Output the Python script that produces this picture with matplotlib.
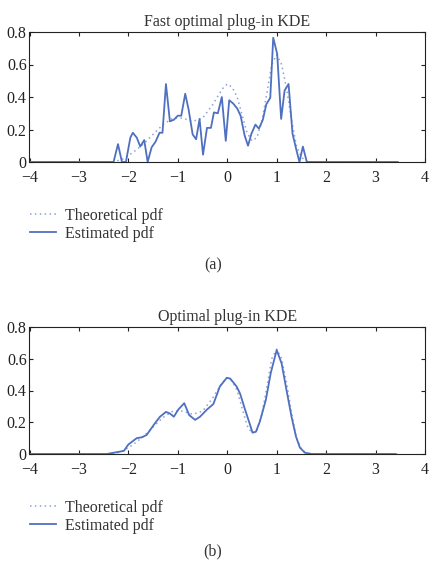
import matplotlib
matplotlib.use("Agg")
import matplotlib.pyplot as plt

plt.rcParams['font.family'] = ['Liberation Serif', 'DejaVu Serif']
plt.rcParams['axes.unicode_minus'] = True

# Theoretical pdf (shared by both panels)
theo_x = [-4.0, -2.3, -2.1, -1.9, -1.7, -1.5, -1.3, -1.1, -0.9, -0.7, -0.5, -0.3, -0.1,
          0.0, 0.1, 0.2, 0.3, 0.4, 0.5, 0.6, 0.7, 0.8, 0.9, 1.0, 1.1, 1.2, 1.3, 1.4,
          1.5, 1.6, 1.7, 3.45]
theo_y = [0.0, 0.0, 0.02, 0.06, 0.11, 0.17, 0.23, 0.27, 0.27, 0.25, 0.27, 0.35, 0.45,
          0.48, 0.46, 0.40, 0.29, 0.18, 0.13, 0.15, 0.25, 0.42, 0.60, 0.66, 0.60, 0.45,
          0.26, 0.10, 0.03, 0.005, 0.0, 0.0]

# (a) Fast optimal plug-in KDE estimate
fast_x = [-4.0, -2.30, -2.21, -2.13, -2.05, -1.96, -1.91, -1.83, -1.76, -1.68, -1.61,
          -1.53, -1.45, -1.37, -1.31, -1.24, -1.16, -1.08, -1.00, -0.93, -0.85, -0.78,
          -0.70, -0.63, -0.56, -0.49, -0.41, -0.33, -0.27, -0.19, -0.11, -0.03, 0.04,
          0.12, 0.20, 0.27, 0.35, 0.42, 0.49, 0.57, 0.64, 0.72, 0.79, 0.87, 0.93,
          1.01, 1.09, 1.16, 1.24, 1.32, 1.39, 1.46, 1.53, 1.61, 3.45]
fast_y = [0.0, 0.0, 0.11, 0.0, 0.0, 0.15, 0.18, 0.15, 0.095, 0.135, 0.0,
          0.09, 0.125, 0.18, 0.18, 0.48, 0.25, 0.26, 0.285, 0.285, 0.42, 0.32,
          0.17, 0.14, 0.265, 0.045, 0.21, 0.21, 0.305, 0.30, 0.40, 0.13, 0.38,
          0.36, 0.33, 0.285, 0.165, 0.10, 0.175, 0.23, 0.205, 0.26, 0.355, 0.395, 0.765,
          0.665, 0.265, 0.44, 0.48, 0.175, 0.085, 0.0, 0.095, 0.0, 0.0]

# (b) Optimal plug-in KDE estimate
opt_x = [-4.0, -2.44, -2.17, -2.09, -2.00, -1.83, -1.73, -1.63, -1.46, -1.36, -1.24,
         -1.16, -1.08, -0.99, -0.87, -0.77, -0.65, -0.55, -0.41, -0.28, -0.15, -0.01,
         0.06, 0.19, 0.26, 0.36, 0.46, 0.51, 0.58, 0.66, 0.78, 0.88, 1.00, 1.10,
         1.20, 1.30, 1.39, 1.47, 1.57, 1.71, 3.40]
opt_y = [0.0, 0.0, 0.015, 0.02, 0.06, 0.10, 0.105, 0.12, 0.195, 0.235, 0.265,
         0.255, 0.235, 0.28, 0.32, 0.245, 0.215, 0.235, 0.28, 0.315, 0.425, 0.48,
         0.475, 0.425, 0.38, 0.28, 0.185, 0.135, 0.14, 0.205, 0.34, 0.51, 0.655, 0.57,
         0.40, 0.235, 0.11, 0.04, 0.008, 0.0, 0.0]

titles = ["Fast optimal plug-in KDE", "Optimal plug-in KDE"]
panel_labels = ["(a)", "(b)"]
xticks = [-4, -3, -2, -1, 0, 1, 2, 3, 4]
yticks = [0, 0.2, 0.4, 0.6, 0.8]
ytick_labels = ["0", "0.2", "0.4", "0.6", "0.8"]

est_color = "#4f6fc0"
theo_color = "#8aa2db"
txt_color = "#333333"
fs = 11.5

W, H = 439, 567
fig = plt.figure(figsize=(W / 100, H / 100), dpi=100)

axes_rects = [
    [29.5 / W, 1 - 162 / H, 395.5 / W, 130 / H],
    [29.5 / W, 1 - 454 / H, 395.5 / W, 127 / H],
]
legend_top_px = [208, 500]
label_px = [265, 551]
est_data = [(fast_x, fast_y), (opt_x, opt_y)]

for i in range(2):
    ax = fig.add_axes(axes_rects[i])
    ax.plot(theo_x, theo_y, linestyle=(0, (1, 2.2)), color=theo_color, lw=1.1,
            label="Theoretical pdf")
    ax.plot(est_data[i][0], est_data[i][1], color=est_color, lw=1.3,
            label="Estimated pdf")
    ax.set_xlim(-4, 4)
    ax.set_ylim(0, 0.8)
    ax.set_xticks(xticks)
    ax.set_xticklabels(["\u2212" + str(abs(t)) if t < 0 else str(t) for t in xticks])
    ax.set_yticks(yticks)
    ax.set_yticklabels(ytick_labels)
    ax.tick_params(direction="in", top=True, right=True, length=3, width=0.8,
                   labelsize=fs, colors="#222222")
    ax.tick_params(axis="x", pad=6)
    ax.tick_params(axis="y", pad=2)
    for s in ax.spines.values():
        s.set_linewidth(0.8)
        s.set_color("#222222")
    ax.set_title(titles[i], fontsize=fs, color=txt_color, pad=4)
    fig.legend(handles=ax.get_lines(), loc="upper left",
               bbox_to_anchor=(30 / W, 1 - legend_top_px[i] / H), frameon=False,
               fontsize=fs, handlelength=1.6, handletextpad=0.6,
               borderpad=0, borderaxespad=0,
               labelspacing=0.12, labelcolor=txt_color)
    fig.text(213 / W, 1 - label_px[i] / H, panel_labels[i], ha="center", va="center",
             fontsize=fs, color=txt_color)

fig.savefig("out.png", dpi=100)
